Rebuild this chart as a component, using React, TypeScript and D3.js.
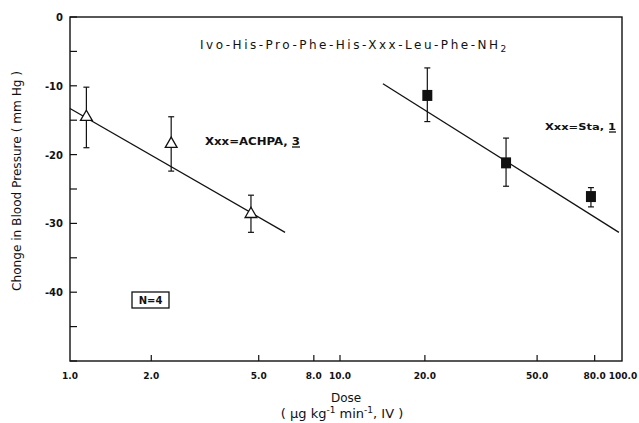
import React, { useEffect, useRef } from 'react';
import * as d3 from 'd3';

// ACHPA analogue (open triangles)
const achpaDose = [1.15, 2.37, 4.68];
const achpaMean = [-14.4, -18.3, -28.5];
const achpaHi = [-10.2, -14.5, -25.9];
const achpaLo = [-19.0, -22.4, -31.3];
const achpaFitDose = [1.0, 6.26];
const achpaFitBp = [-13.3, -31.3];

// Sta analogue (filled squares)
const staDose = [20.4, 38.8, 77.6];
const staMean = [-11.4, -21.2, -26.1];
const staHi = [-7.4, -17.6, -24.8];
const staLo = [-15.2, -24.6, -27.6];
const staFitDose = [14.2, 97.5];
const staFitBp = [-9.7, -31.3];

const xTicks = [1, 2, 5, 8, 10, 20, 50, 80, 100];
const xTickLabels = ['1.0', '2.0', '5.0', '8.0', '10.0', '20.0', '50.0', '80.0', '100.0'];
const yTicks = [0, -5, -10, -15, -20, -25, -30, -35, -40, -45, -50];
const yLabelTicks = [0, -10, -20, -30, -40];

const W = 639;
const H = 423;
const font = '"DejaVu Sans", sans-serif';

export default function App() {
  const ref = useRef<SVGSVGElement>(null);

  useEffect(() => {
    const svg = d3.select(ref.current);
    svg.selectAll('*').remove();

    const x = d3.scaleLog().domain([1, 10, 100]).range([70, 340, 622]);
    const y = d3.scaleLinear().domain([0, -50]).range([17, 361]);

    const g = svg.append('g');

    // frame
    g.append('rect')
      .attr('x', x(1)).attr('y', y(0))
      .attr('width', x(100) - x(1)).attr('height', y(-50) - y(0))
      .attr('fill', 'none').attr('stroke', '#111').attr('stroke-width', 1.4);

    // y ticks
    g.selectAll('line.yt').data(yTicks).enter().append('line')
      .attr('x1', x(1)).attr('x2', x(1) + 7)
      .attr('y1', d => y(d)).attr('y2', d => y(d))
      .attr('stroke', '#111').attr('stroke-width', 1.2);
    g.selectAll('text.yl').data(yLabelTicks).enter().append('text')
      .attr('x', x(1) - 7).attr('y', d => y(d) + 4)
      .attr('text-anchor', 'end')
      .style('font-family', font).style('font-size', '10px').style('font-weight', 'bold')
      .attr('fill', '#111')
      .text(d => (d === 0 ? '0' : '-' + Math.abs(d)));

    // x ticks
    g.selectAll('line.xt').data(xTicks.slice(1, -1)).enter().append('line')
      .attr('x1', d => x(d)).attr('x2', d => x(d))
      .attr('y1', y(-50)).attr('y2', y(-50) - 6)
      .attr('stroke', '#111').attr('stroke-width', 1.2);
    g.selectAll('text.xl').data(xTicks).enter().append('text')
      .attr('x', d => (d === 100 ? x(d) + 1 : x(d)))
      .attr('y', y(-50) + 18)
      .attr('text-anchor', 'middle')
      .style('font-family', font).style('font-size', '9px').style('font-weight', 'bold')
      .attr('fill', '#111')
      .text((d, i) => xTickLabels[i]);

    // fit lines
    const line = d3.line<[number, number]>().x(d => x(d[0])).y(d => y(d[1]));
    g.append('path')
      .attr('d', line(achpaFitDose.map((d, i) => [d, achpaFitBp[i]] as [number, number])))
      .attr('fill', 'none').attr('stroke', '#111').attr('stroke-width', 1.3);
    g.append('path')
      .attr('d', line(staFitDose.map((d, i) => [d, staFitBp[i]] as [number, number])))
      .attr('fill', 'none').attr('stroke', '#111').attr('stroke-width', 1.3);

    // error bars
    const errBars = (dose: number[], hi: number[], lo: number[]) => {
      dose.forEach((d, i) => {
        const cx = x(d);
        g.append('line').attr('x1', cx).attr('x2', cx).attr('y1', y(hi[i])).attr('y2', y(lo[i]))
          .attr('stroke', '#111').attr('stroke-width', 1.2);
        [hi[i], lo[i]].forEach(v => {
          g.append('line').attr('x1', cx - 3).attr('x2', cx + 3).attr('y1', y(v)).attr('y2', y(v))
            .attr('stroke', '#111').attr('stroke-width', 1.2);
        });
      });
    };
    errBars(achpaDose, achpaHi, achpaLo);
    errBars(staDose, staHi, staLo);

    // triangles
    const tri = d3.symbol().type(d3.symbolTriangle).size(60);
    g.selectAll('path.tri').data(achpaDose).enter().append('path')
      .attr('d', tri)
      .attr('transform', (d, i) => `translate(${x(d)},${y(achpaMean[i]) + 1})`)
      .attr('fill', '#fff').attr('stroke', '#111').attr('stroke-width', 1.3);

    // squares
    g.selectAll('rect.sq').data(staDose).enter().append('rect')
      .attr('x', d => x(d) - 5).attr('y', (d, i) => y(staMean[i]) - 5.5)
      .attr('width', 10).attr('height', 11).attr('fill', '#111');

    // title
    const title = g.append('text')
      .attr('x', 200).attr('y', 49)
      .style('font-family', font).style('font-size', '12px').attr('fill', '#111');
    title.append('tspan').attr('textLength', 298).attr('lengthAdjust', 'spacing')
      .text('Ivo-His-Pro-Phe-His-Xxx-Leu-Phe-NH');
    title.append('tspan').attr('dy', 3).style('font-size', '9px').text('2');

    // series labels
    g.append('text').attr('x', 205).attr('y', 145)
      .attr('textLength', 95).attr('lengthAdjust', 'spacingAndGlyphs')
      .style('font-family', font).style('font-size', '10px').style('font-weight', 'bold').attr('fill', '#111')
      .text('Xxx=ACHPA, 3');
    g.append('line').attr('x1', 292).attr('x2', 300).attr('y1', 147).attr('y2', 147)
      .attr('stroke', '#111').attr('stroke-width', 1.3);
    g.append('text').attr('x', 545).attr('y', 130)
      .attr('textLength', 71).attr('lengthAdjust', 'spacingAndGlyphs')
      .style('font-family', font).style('font-size', '9.5px').style('font-weight', 'bold').attr('fill', '#111')
      .text('Xxx=Sta, 1');
    g.append('line').attr('x1', 609).attr('x2', 616).attr('y1', 132).attr('y2', 132)
      .attr('stroke', '#111').attr('stroke-width', 1.3);

    // N=4 box
    g.append('rect').attr('x', 132).attr('y', 292).attr('width', 37).attr('height', 16)
      .attr('fill', 'none').attr('stroke', '#111').attr('stroke-width', 1.3);
    g.append('text').attr('x', 150.5).attr('y', 304).attr('text-anchor', 'middle')
      .style('font-family', font).style('font-size', '10px').style('font-weight', 'bold').attr('fill', '#111')
      .text('N=4');

    // axis titles
    g.append('text')
      .attr('transform', 'translate(21,181) rotate(-90)')
      .attr('text-anchor', 'middle')
      .attr('textLength', 220).attr('lengthAdjust', 'spacingAndGlyphs')
      .style('font-family', font).style('font-size', '11.5px').attr('fill', '#111')
      .text('Chonge in Blood Pressure ( mm Hg )');
    g.append('text').attr('x', 346).attr('y', 402).attr('text-anchor', 'middle')
      .style('font-family', font).style('font-size', '12px').attr('fill', '#111')
      .text('Dose');
    const unit = g.append('text').attr('x', 342).attr('y', 418).attr('text-anchor', 'middle')
      .style('font-family', font).style('font-size', '13px').attr('fill', '#111');
    unit.append('tspan').text('( µg kg');
    unit.append('tspan').attr('dy', -5).style('font-size', '9px').text('-1');
    unit.append('tspan').attr('dy', 5).text(' min');
    unit.append('tspan').attr('dy', -5).style('font-size', '9px').text('-1');
    unit.append('tspan').attr('dy', 5).text(', IV )');
  }, []);

  return (
    <svg ref={ref} width={W} height={H}
      style={{ position: 'absolute', left: 0, top: 0, background: '#fff' }} />
  );
}
